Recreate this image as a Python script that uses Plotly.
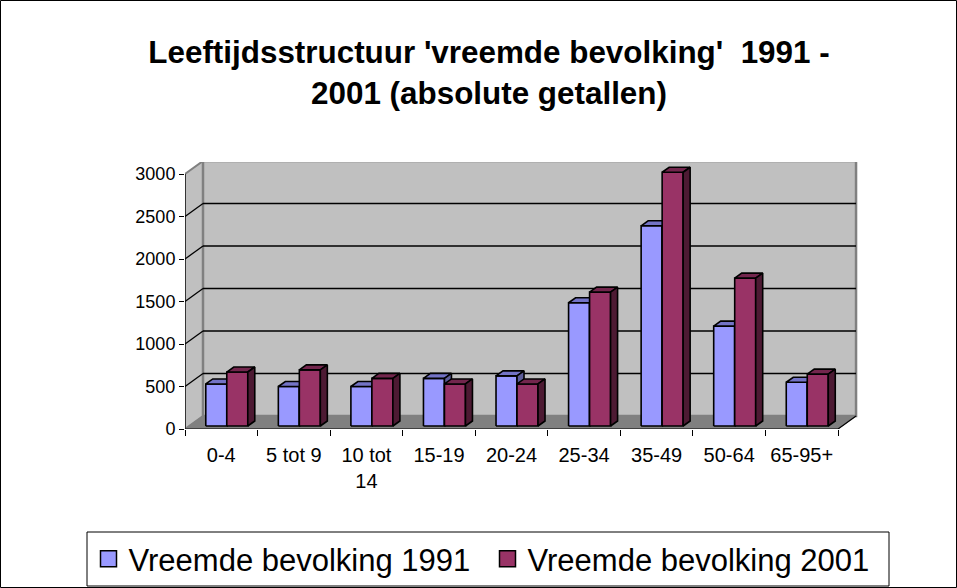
import plotly.graph_objects as go

# ---------------- data ----------------
categories = ["0-4", "5 tot 9", "10 tot<br>14", "15-19", "20-24",
              "25-34", "35-49", "50-64", "65-95+"]
pop_1991 = [495, 465, 465, 560, 590, 1450, 2355, 1175, 515]
pop_2001 = [635, 660, 560, 495, 495, 1575, 2985, 1740, 610]
series_names = ["Vreemde bevolking 1991", "Vreemde bevolking 2001"]
y_ticks = [0, 500, 1000, 1500, 2000, 2500, 3000]
title_text = "<b>Leeftijdsstructuur 'vreemde bevolking'\u00a0 1991 -<br>2001 (absolute getallen)</b>"

# ---------------- geometry (pixels -> axis units) ----------------
W, H = 957, 588
ML, MR, MT, MB = 185, 99, 162, 159
PW = W - ML - MR
PH = H - MT - MB
CAT_PX = 72.56          # pixels per category
Y_PX = 0.085            # pixels per unit value
XMAX = -0.5 + PW / CAT_PX
YMAX = PH / Y_PX
ux = 1.0 / CAT_PX
uy = 1.0 / Y_PX
WALL_DX, WALL_DY = 18 * ux, 13 * uy
BAR_SHIFT = 5.5 * ux
BAR_W = 21 * ux
BAR_BASE = 3 * uy
TOP_DX, TOP_DY = 7 * ux, 5 * uy

FONT = "Liberation Sans, Arial, sans-serif"
COL = {
    "front": ["#9999FF", "#993366"],
    "top": ["#7373C6", "#73264D"],
    "side": ["#5C5C99", "#4D1A33"],
}
WALL = "#C0C0C0"
FLOOR = "#808080"

# legend box (pixels) and legend entry anchors
LEG_BOX = (87, 532, 889, 586)
LEG_X = [88.5, 487.5]

n = len(categories)
xl, xr = -0.5, n - 0.5
ytop = max(y_ticks)

fig = go.Figure()


def polys(vals, s):
    fx, fy, tx, ty, sx, sy = [], [], [], [], [], []
    for i, v in enumerate(vals):
        if s == 0:
            x0, x1 = i + BAR_SHIFT - BAR_W, i + BAR_SHIFT
        else:
            x0, x1 = i + BAR_SHIFT, i + BAR_SHIFT + BAR_W
        b = BAR_BASE
        t = BAR_BASE + v
        fx += [x0, x1, x1, x0, x0, None]
        fy += [b, b, t, t, b, None]
        tx += [x0, x1, x1 + TOP_DX, x0 + TOP_DX, x0, None]
        ty += [t, t, t + TOP_DY, t + TOP_DY, t, None]
        sx += [x1, x1 + TOP_DX, x1 + TOP_DX, x1, x1, None]
        sy += [b, b + TOP_DY, t + TOP_DY, t, b, None]
    return (fx, fy), (tx, ty), (sx, sy)


for s, vals in enumerate([pop_1991, pop_2001]):
    front, top, side = polys(vals, s)
    for (px, py), c in [(front, COL["front"][s]), (top, COL["top"][s]), (side, COL["side"][s])]:
        fig.add_trace(go.Scatter(
            x=px, y=py, mode="lines", fill="toself", fillcolor=c,
            line=dict(color="black", width=1.6), hoverinfo="skip",
            showlegend=False))

# legend entries (one legend per entry, sharing a drawn box)
for s, name in enumerate(series_names):
    fig.add_trace(go.Scatter(
        x=[None], y=[None], mode="markers", name=name,
        legend="legend" if s == 0 else "legend2",
        marker=dict(symbol="square", size=20, color=COL["front"][s],
                    line=dict(color="black", width=1.5))))

shapes = []
# side wall
shapes.append(dict(type="path", xref="x", yref="y", layer="below",
                   path=f"M{xl},0 L{xl},{ytop} L{xl+WALL_DX},{ytop+WALL_DY} L{xl+WALL_DX},{WALL_DY} Z",
                   fillcolor=WALL, line=dict(color="#808080", width=2)))
# back wall
shapes.append(dict(type="rect", xref="x", yref="y", layer="below",
                   x0=xl + WALL_DX, x1=xr + WALL_DX, y0=WALL_DY, y1=ytop + WALL_DY,
                   fillcolor=WALL, line=dict(color="#808080", width=2.5)))
# floor
shapes.append(dict(type="path", xref="x", yref="y", layer="below",
                   path=f"M{xl},0 L{xr},0 L{xr+WALL_DX},{WALL_DY} L{xl+WALL_DX},{WALL_DY} Z",
                   fillcolor=FLOOR, line=dict(color=FLOOR, width=1)))
# gridlines
for v in y_ticks[1:-1]:
    shapes.append(dict(type="line", xref="x", yref="y", layer="below",
                       x0=xl + WALL_DX, x1=xr + WALL_DX, y0=v + WALL_DY, y1=v + WALL_DY,
                       line=dict(color="black", width=1.3)))
    shapes.append(dict(type="line", xref="x", yref="y", layer="below",
                       x0=xl, x1=xl + WALL_DX, y0=v, y1=v + WALL_DY,
                       line=dict(color="black", width=1.3)))
# axis lines
shapes.append(dict(type="line", xref="x", yref="y", x0=xl, x1=xr, y0=0, y1=0,
                   line=dict(color="black", width=1.2)))
shapes.append(dict(type="line", xref="x", yref="y", x0=xr, x1=xr + WALL_DX, y0=0, y1=WALL_DY,
                   line=dict(color="black", width=1.2)))
shapes.append(dict(type="line", xref="x", yref="y", x0=xl, x1=xl, y0=0, y1=ytop,
                   line=dict(color="black", width=1.2)))


def px_x(p):
    return (p - ML) / PW


def px_y(p):
    return (H - MB - p) / PH


# outer frame of the chart
shapes.append(dict(type="rect", xref="paper", yref="paper",
                   x0=px_x(0.5), x1=px_x(W - 0.5), y0=px_y(H - 0.5), y1=px_y(0.5),
                   line=dict(color="black", width=1), fillcolor="rgba(0,0,0,0)"))
# legend frame
shapes.append(dict(type="rect", xref="paper", yref="paper",
                   x0=px_x(LEG_BOX[0]), x1=px_x(LEG_BOX[2]),
                   y0=px_y(LEG_BOX[3]), y1=px_y(LEG_BOX[1]),
                   line=dict(color="black", width=1), fillcolor="rgba(0,0,0,0)"))

leg_common = dict(orientation="h", xref="container", yref="container",
                  xanchor="left", yanchor="middle",
                  y=1 - ((LEG_BOX[1] + LEG_BOX[3]) / 2) / H,
                  borderwidth=0, bgcolor="rgba(0,0,0,0)",
                  font=dict(family=FONT, size=31, color="black"),
                  itemsizing="trace")

fig.update_layout(
    width=W, height=H,
    margin=dict(l=ML, r=MR, t=MT, b=MB, pad=0, autoexpand=False),
    paper_bgcolor="white", plot_bgcolor="white",
    font=dict(family=FONT, color="black"),
    title=dict(text=title_text, x=489 / W, xanchor="center", xref="container",
               y=1 - 63 / H, yanchor="top", yref="container",
               font=dict(family=FONT, size=31.4, color="black")),
    shapes=shapes,
    showlegend=True,
    legend=dict(x=LEG_X[0] / W, **leg_common),
    legend2=dict(x=LEG_X[1] / W, **leg_common),
    xaxis=dict(range=[-0.5, XMAX], tickmode="array", tickvals=list(range(n)),
               ticktext=categories, ticks="", showgrid=False, zeroline=False,
               showline=False, tickfont=dict(family=FONT, size=20, color="black"),
               ticklabelstandoff=12, fixedrange=True,
               minor=dict(tickmode="array", tickvals=[i - 0.5 for i in range(n + 1)],
                          ticks="outside", ticklen=6, tickcolor="black", tickwidth=1,
                          showgrid=False)),
    yaxis=dict(range=[0, YMAX], tickmode="array", tickvals=y_ticks,
               ticks="outside", ticklen=5, tickcolor="black", tickwidth=1,
               showgrid=False, zeroline=False, showline=False, ticklabelstandoff=0,
               tickfont=dict(family=FONT, size=18, color="black"), fixedrange=True),
)

fig.write_html("out.html", config={"displayModeBar": False},
               post_script="document.body.style.margin='0px';document.body.style.padding='0px';")
